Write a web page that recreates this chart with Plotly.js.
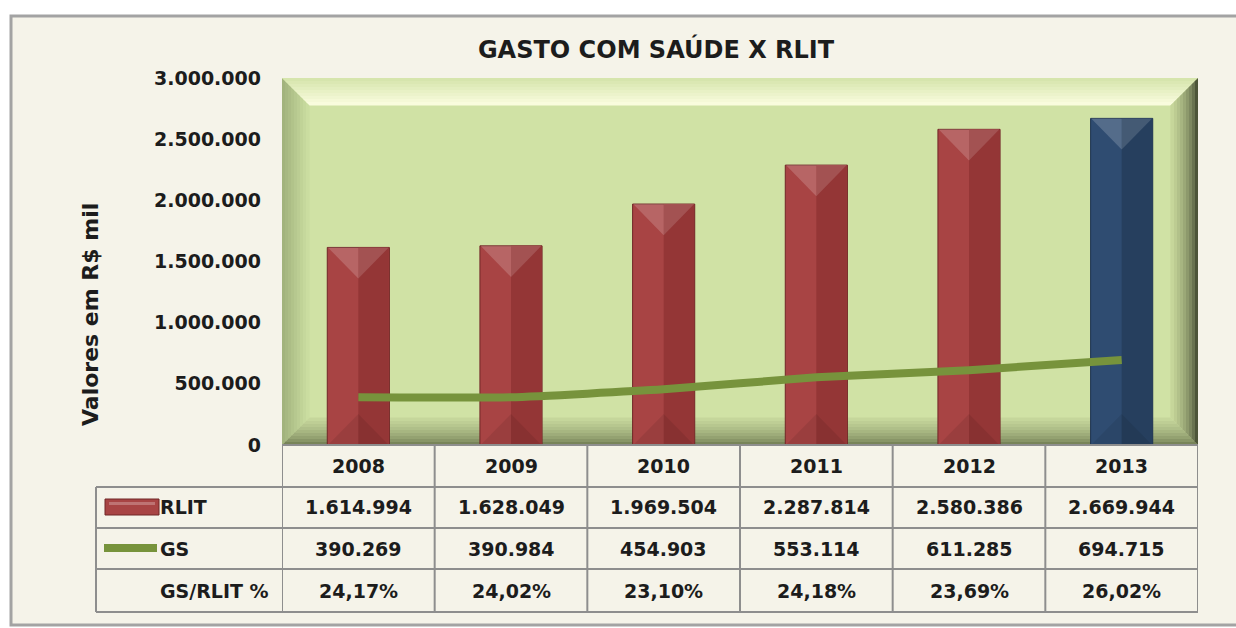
<!DOCTYPE html>
<html>
<head>
<meta charset="utf-8">
<script src="https://cdn.plot.ly/plotly-3.0.1.min.js"></script>
<style>html,body{margin:0;padding:0;background:#fff;}#chart{width:1236px;height:628px;}</style>
</head>
<body>
<div id="chart"></div>
<script>
// ---- data ----
const years = ['2008', '2009', '2010', '2011', '2012', '2013'];
const rlit = [1614994, 1628049, 1969504, 2287814, 2580386, 2669944];
const gs = [390269, 390984, 454903, 553114, 611285, 694715];
const gsRlitPct = ['24,17%', '24,02%', '23,10%', '24,18%', '23,69%', '26,02%'];
const rowLabels = ['RLIT', 'GS', 'GS/RLIT %'];
const chartTitle = 'GASTO COM SAÚDE X RLIT';
const yTitle = 'Valores em R$ mil';

// ---- geometry (pixels) ----
const W = 1236, H = 628;
const L = 282, R = 1198, T = 78, B = 445;
const PW = R - L, PH = B - T;
const YMAX = 3000000;
const px = x => (x - L) / PW;
const py = y => (B - y) / PH;
const FONT = 'DejaVu Sans';

function fmt(n) { return String(n).replace(/\B(?=(\d{3})+(?!\d))/g, '.'); }
function hex2rgb(h) { return [1,3,5].map(i => parseInt(h.substr(i, 2), 16)); }
function mix(a, b, t) {
  const A = hex2rgb(a), Bc = hex2rgb(b);
  return 'rgb(' + A.map((v, i) => Math.round(v + (Bc[i] - v) * t)).join(',') + ')';
}
function poly(pts) {
  return 'M' + pts.map(p => px(p[0]) + ',' + py(p[1])).join(' L') + ' Z';
}

const shapes = [];
// outer frame
shapes.push({type: 'rect', xref: 'paper', yref: 'paper', layer: 'below',
  x0: px(11), x1: px(1250), y0: py(16), y1: py(625),
  fillcolor: '#f5f3e9', line: {color: '#a3a3a3', width: 3}});
// green plot area
shapes.push({type: 'rect', xref: 'paper', yref: 'paper', layer: 'below',
  x0: 0, x1: 1, y0: 0, y1: 1, fillcolor: '#d0e2a5', line: {width: 0}});
// bevel of plot area
const bd = 27, NS = 9;
const sides = {
  top: ['#d4e4aa', '#fbfde0', 1],
  left: ['#9fb07b', '#cde0a2', 1],
  bottom: ['#67724a', '#c8d99e', 0.6],
  right: ['#262c1a', '#cbdb9e', 0.5]
};
for (let j = 0; j < NS; j++) {
  const a = j * bd / NS, b = (j + 1) * bd / NS + 0.6;
  const t = (j + 0.5) / NS;
  const quads = {
    top: [[L + a, T + a], [R - a, T + a], [R - b, T + b], [L + b, T + b]],
    left: [[L + a, T + a], [L + a, B - a], [L + b, B - b], [L + b, T + b]],
    bottom: [[L + a, B - a], [R - a, B - a], [R - b, B - b], [L + b, B - b]],
    right: [[R - a, T + a], [R - a, B - a], [R - b, B - b], [R - b, T + b]]
  };
  for (const s of ['left', 'bottom', 'top', 'right']) {
    const [c0, c1, p] = sides[s];
    shapes.push({type: 'path', xref: 'paper', yref: 'paper', layer: 'below',
      path: poly(quads[s]), fillcolor: mix(c0, c1, Math.pow(t, p)), line: {width: 0}});
  }
}

// ---- bars ----
const BW = 0.407, HW = BW / 2;
const xi = years.map((_, i) => i);
const isLast = years.map((_, i) => i === years.length - 1);
const barMain = isLast.map(b => b ? '#2f4c71' : '#a84444');
const barDark = isLast.map(b => b ? '#263f5e' : '#943636');
const barEdge = isLast.map(b => b ? '#1e3350' : '#702626');
const dv = (HW * PW / 6) * YMAX / PH; // 45° bevel depth in data units
rlit.forEach((v, i) => {
  shapes.push({type: 'path', xref: 'x', yref: 'y', layer: 'above',
    path: `M${i - HW + 0.004},${v} L${i},${v} L${i},${v - dv} Z`,
    fillcolor: 'rgba(255,255,255,0.18)', line: {width: 0}});
  shapes.push({type: 'path', xref: 'x', yref: 'y', layer: 'above',
    path: `M${i},${v} L${i + HW - 0.004},${v} L${i},${v - dv} Z`,
    fillcolor: 'rgba(255,255,255,0.14)', line: {width: 0}});
  shapes.push({type: 'path', xref: 'x', yref: 'y', layer: 'above',
    path: `M${i - HW + 0.004},0 L${i + HW - 0.004},0 L${i},${dv} Z`,
    fillcolor: 'rgba(0,0,0,0.08)', line: {width: 0}});
});

// ---- table lines ----
const gridC = '#8e8e8e';
const rowsY = [487, 528, 569, 612];
rowsY.forEach(y => shapes.push({type: 'line', xref: 'paper', yref: 'paper', layer: 'above',
  x0: px(96), x1: 1, y0: py(y), y1: py(y), line: {color: gridC, width: 2}}));
shapes.push({type: 'line', xref: 'paper', yref: 'paper', layer: 'above',
  x0: 0, x1: 1, y0: 0, y1: 0, line: {color: gridC, width: 2}});
for (let k = 0; k <= years.length; k++) {
  shapes.push({type: 'line', xref: 'x', yref: 'paper', layer: 'above',
    x0: k - 0.5, x1: k - 0.5, y0: 0, y1: py(612), line: {color: gridC, width: 2}});
}
shapes.push({type: 'line', xref: 'paper', yref: 'paper', layer: 'above',
  x0: px(96), x1: px(96), y0: py(487), y1: py(612), line: {color: gridC, width: 2}});
// legend keys in the table
shapes.push({type: 'rect', xref: 'paper', yref: 'paper', layer: 'above',
  x0: px(105), x1: px(159), y0: py(499), y1: py(515),
  fillcolor: '#a84444', line: {color: '#702626', width: 1}});
shapes.push({type: 'rect', xref: 'paper', yref: 'paper', layer: 'above',
  x0: px(109), x1: px(155), y0: py(502), y1: py(505),
  fillcolor: 'rgba(255,255,255,0.25)', line: {width: 0}});
shapes.push({type: 'line', xref: 'paper', yref: 'paper', layer: 'above',
  x0: px(104), x1: px(157), y0: py(548), y1: py(548),
  line: {color: '#77933c', width: 8}});

// ---- annotations (table text + y title) ----
const tf = {family: FONT, size: 19, color: '#1c1c1c', weight: 'bold'};
const ann = [];
const rowCenters = [466, 507.5, 548.5, 590.5];
years.forEach((yr, i) => {
  ann.push({xref: 'x', yref: 'paper', x: i, y: py(rowCenters[0]), text: yr, showarrow: false, font: tf, xanchor: 'center', yanchor: 'middle'});
  ann.push({xref: 'x', yref: 'paper', x: i, y: py(rowCenters[1]), text: fmt(rlit[i]), showarrow: false, font: tf, xanchor: 'center', yanchor: 'middle'});
  ann.push({xref: 'x', yref: 'paper', x: i, y: py(rowCenters[2]), text: fmt(gs[i]), showarrow: false, font: tf, xanchor: 'center', yanchor: 'middle'});
  ann.push({xref: 'x', yref: 'paper', x: i, y: py(rowCenters[3]), text: gsRlitPct[i], showarrow: false, font: tf, xanchor: 'center', yanchor: 'middle'});
});
rowLabels.forEach((lb, r) => {
  ann.push({xref: 'paper', yref: 'paper', x: px(158), y: py(rowCenters[r + 1]), text: lb, showarrow: false, font: tf, xanchor: 'left', yanchor: 'middle'});
});
ann.push({xref: 'paper', yref: 'paper', x: px(90), y: py(315), text: yTitle, textangle: -90,
  showarrow: false, font: {family: FONT, size: 22, color: '#1c1c1c', weight: 'bold'}, xanchor: 'center', yanchor: 'middle'});

const traces = [
  {type: 'bar', x: xi, y: rlit, width: BW, name: 'RLIT',
   marker: {color: barMain, line: {color: barEdge, width: 1}}, hoverinfo: 'y'},
  {type: 'bar', x: xi, y: rlit, width: HW - 0.004, offset: 0, name: 'RLIT',
   marker: {color: barDark, line: {width: 0}}, hoverinfo: 'skip'},
  {type: 'scatter', mode: 'lines', x: xi, y: gs, name: 'GS',
   line: {color: '#77933c', width: 8, shape: 'spline', smoothing: 0.5}}
];

const layout = {
  width: W, height: H, autosize: false,
  margin: {l: L, r: W - R, t: T, b: H - B, pad: 0},
  paper_bgcolor: '#ffffff', plot_bgcolor: 'rgba(0,0,0,0)',
  separators: ',.',
  showlegend: false,
  barmode: 'overlay',
  title: {text: chartTitle, font: {family: FONT, size: 24, color: '#1c1c1c', weight: 'bold'},
          x: 656 / W, xref: 'container', xanchor: 'center', y: 1 - 50 / H, yref: 'container', yanchor: 'middle'},
  xaxis: {range: [-0.5, years.length - 0.5], showgrid: false, zeroline: false, showticklabels: false, ticks: '', fixedrange: true},
  yaxis: {range: [0, YMAX], dtick: 500000, tickformat: ',d', showgrid: false, zeroline: false, ticks: '',
          ticklabelstandoff: 20, tickfont: {family: FONT, size: 19, color: '#1c1c1c', weight: 'bold'}, fixedrange: true},
  shapes: shapes,
  annotations: ann
};

Plotly.newPlot('chart', traces, layout, {displayModeBar: false, staticPlot: true});
</script>
</body>
</html>
